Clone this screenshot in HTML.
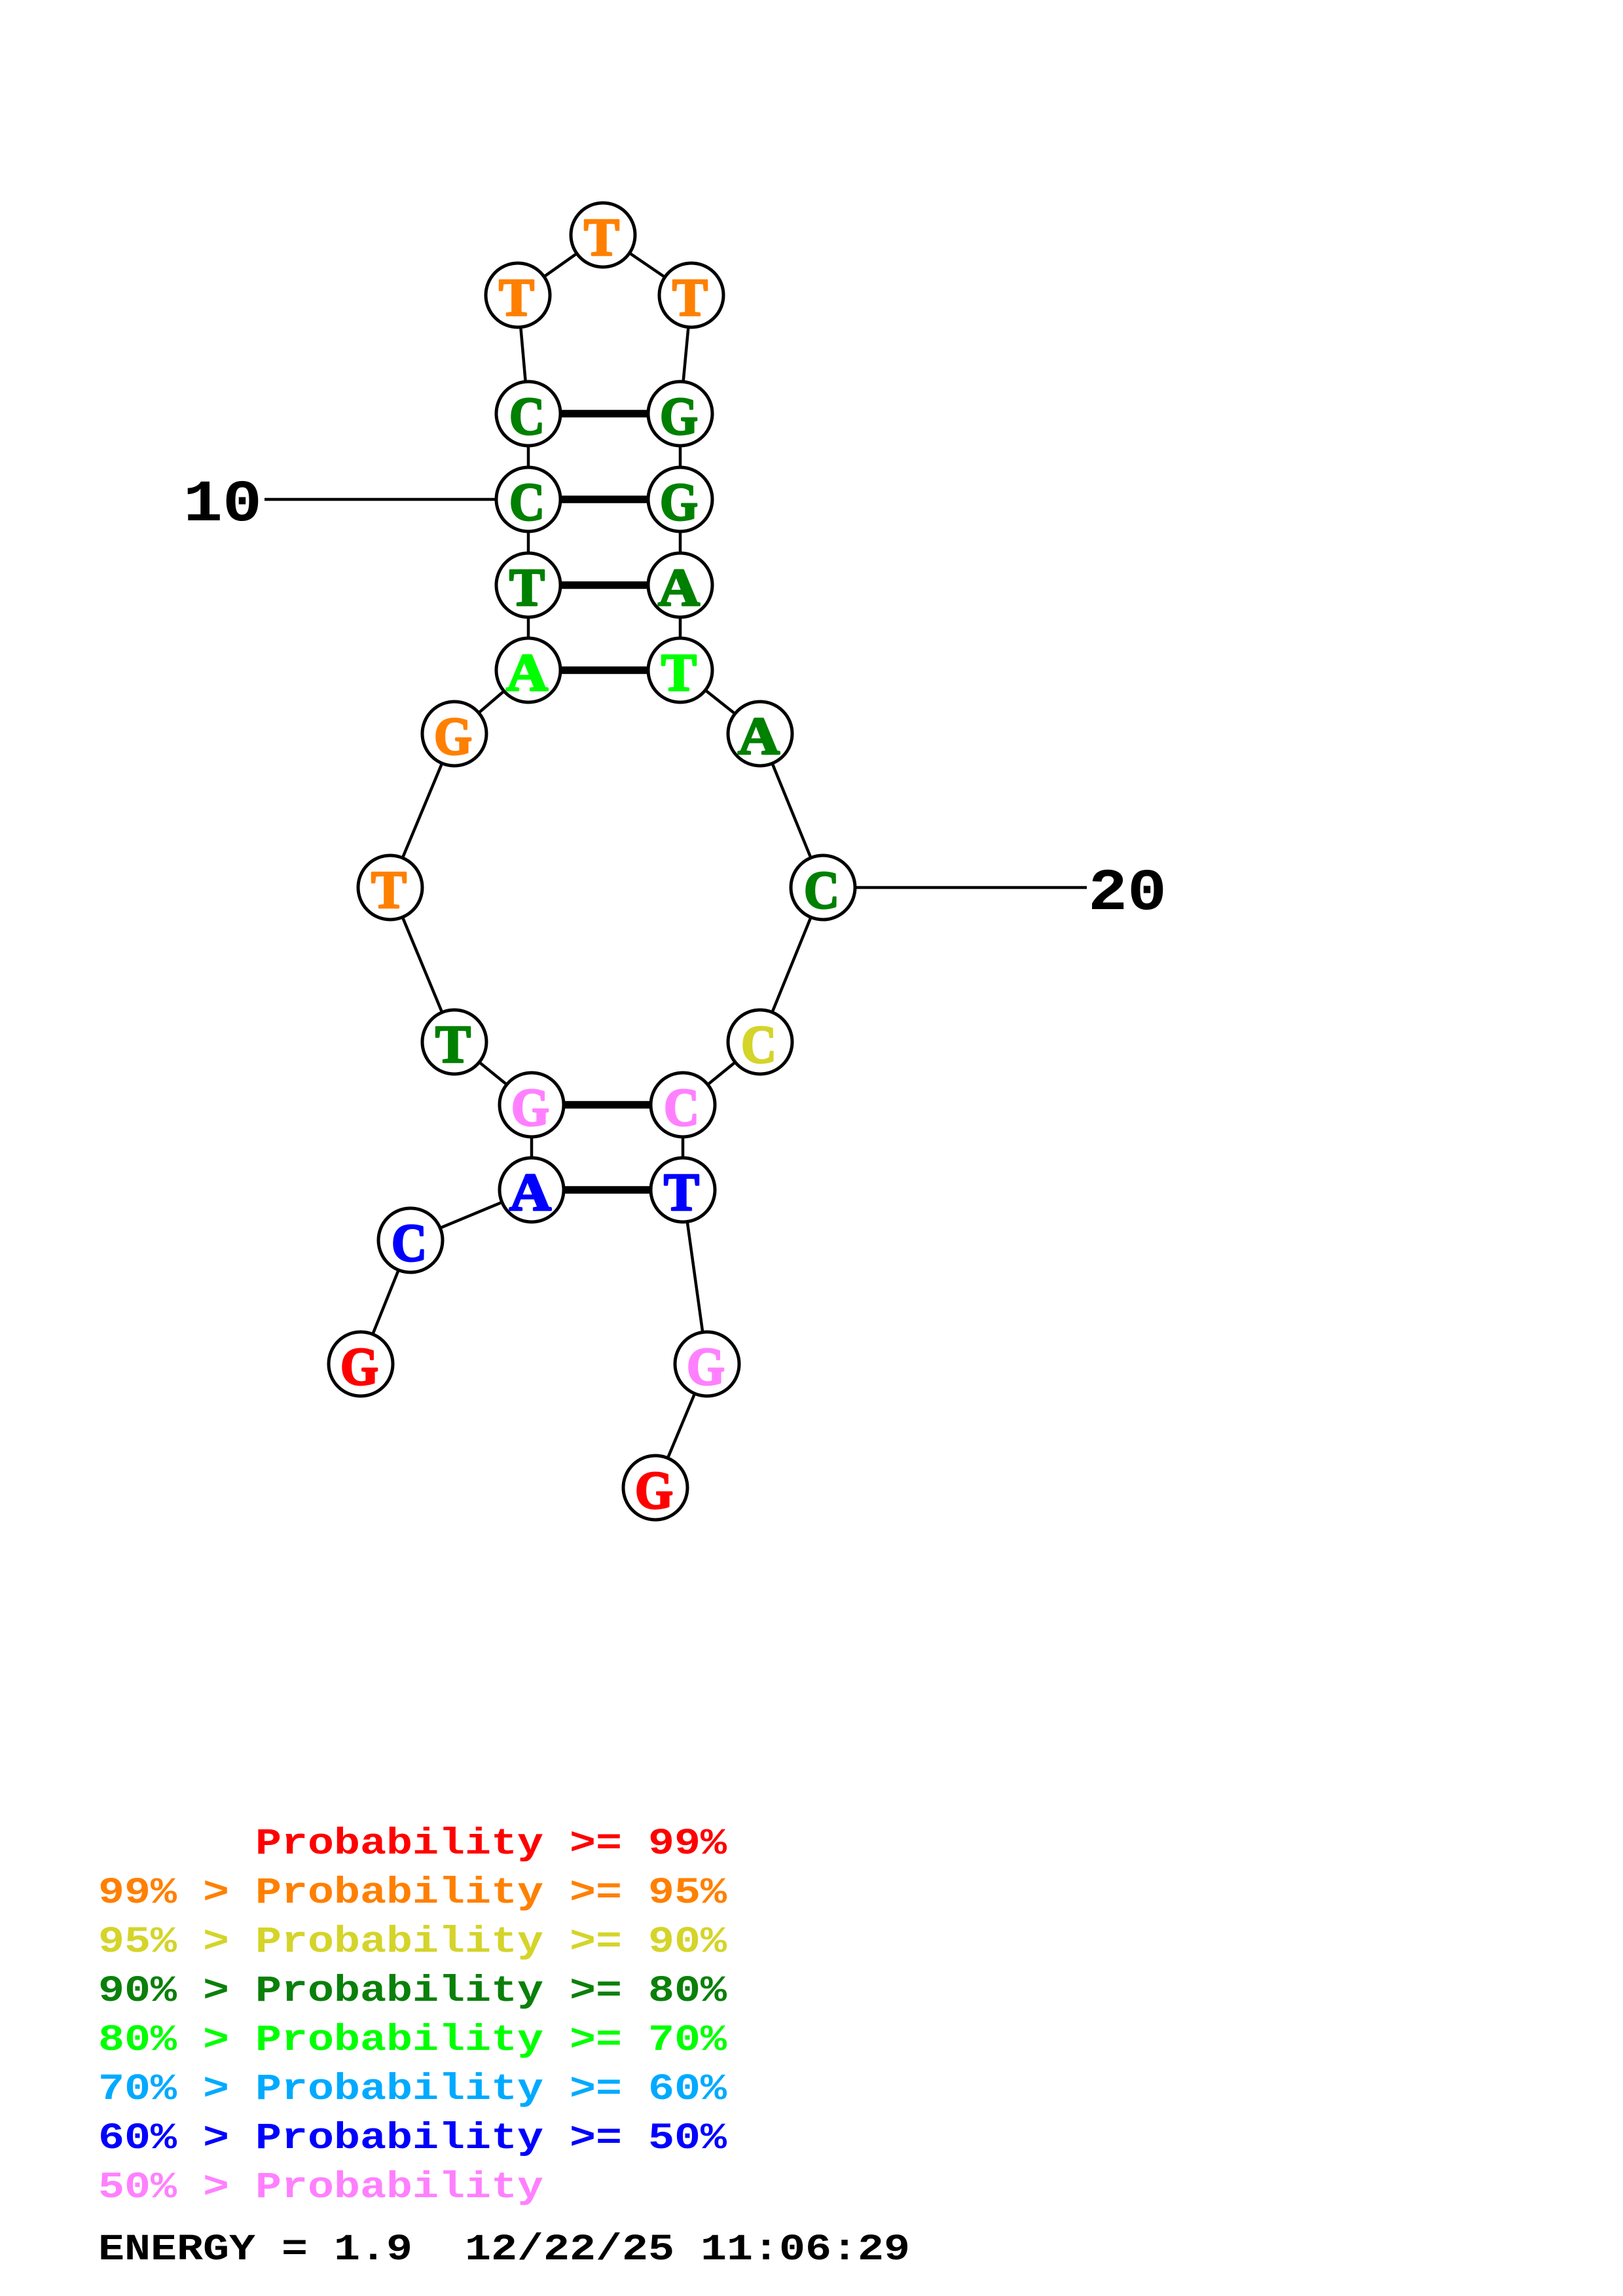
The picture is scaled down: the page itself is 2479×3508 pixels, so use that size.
<!DOCTYPE html>
<html><head><meta charset="utf-8"><style>
html,body{margin:0;padding:0;background:#fff}
svg{display:block}
.n{font-family:"Liberation Serif",serif;font-weight:bold;font-size:82px;text-anchor:middle;stroke-width:3px;stroke-linejoin:round}
.m{font-family:"Liberation Mono",monospace;font-weight:bold;font-size:66.67px;white-space:pre}
.d{font-family:"Liberation Mono",monospace;font-weight:bold;font-size:100px;fill:#000}
circle{fill:#fff;stroke:#000;stroke-width:5}
.o{fill:#ff8000;stroke:#ff8000}.g{fill:#008000;stroke:#008000}.l{fill:#00ff00;stroke:#00ff00}
.y{fill:#d4d42a;stroke:#d4d42a}.p{fill:#ff80ff;stroke:#ff80ff}.b{fill:#0000ff;stroke:#0000ff}.r{fill:#ff0000;stroke:#ff0000}
</style></head><body>
<svg xmlns="http://www.w3.org/2000/svg" width="2479" height="3508" viewBox="0 0 2479 3508">
<rect width="2479" height="3508" fill="#fff"/>
<polyline fill="none" stroke="#000" stroke-width="4.5" points="551,2084 627,1895 812,1818 812,1688 694,1592 596,1356 694,1121 807,1024 807,894 807,763 807,632 791,451 921,359 1056,451 1039,632 1039,763 1039,894 1039,1024 1161,1121 1257,1356 1161,1592 1043,1688 1043,1818 1080,2084 1001,2273"/>
<g stroke="#000" stroke-width="11.5">
<line x1="807" y1="632" x2="1039" y2="632"/>
<line x1="807" y1="763" x2="1039" y2="763"/>
<line x1="807" y1="894" x2="1039" y2="894"/>
<line x1="807" y1="1024" x2="1039" y2="1024"/>
<line x1="812" y1="1688" x2="1043" y2="1688"/>
<line x1="812" y1="1818" x2="1043" y2="1818"/>
</g>
<g stroke="#000" stroke-width="4.5">
<line x1="404" y1="763" x2="807" y2="763"/>
<line x1="1257" y1="1356" x2="1660" y2="1356"/>
</g>
<g>
<circle cx="921" cy="359" r="49"/><circle cx="791" cy="451" r="49"/><circle cx="1056" cy="451" r="49"/>
<circle cx="807" cy="632" r="49"/><circle cx="1039" cy="632" r="49"/>
<circle cx="807" cy="763" r="49"/><circle cx="1039" cy="763" r="49"/>
<circle cx="807" cy="894" r="49"/><circle cx="1039" cy="894" r="49"/>
<circle cx="807" cy="1024" r="49"/><circle cx="1039" cy="1024" r="49"/>
<circle cx="694" cy="1121" r="49"/><circle cx="1161" cy="1121" r="49"/>
<circle cx="596" cy="1356" r="49"/><circle cx="1257" cy="1356" r="49"/>
<circle cx="694" cy="1592" r="49"/><circle cx="1161" cy="1592" r="49"/>
<circle cx="812" cy="1688" r="49"/><circle cx="1043" cy="1688" r="49"/>
<circle cx="812" cy="1818" r="49"/><circle cx="1043" cy="1818" r="49"/>
<circle cx="627" cy="1895" r="49"/>
<circle cx="551" cy="2084" r="49"/><circle cx="1080" cy="2084" r="49"/>
<circle cx="1001" cy="2273" r="49"/>
</g>
<g class="n">
<text x="919" y="390" class="o" textLength="54" lengthAdjust="spacingAndGlyphs">T</text>
<text x="789" y="482" class="o" textLength="54" lengthAdjust="spacingAndGlyphs">T</text>
<text x="1054" y="482" class="o" textLength="54" lengthAdjust="spacingAndGlyphs">T</text>
<text x="805" y="663" class="g" textLength="54" lengthAdjust="spacingAndGlyphs">C</text>
<text x="1037" y="663" class="g" textLength="58" lengthAdjust="spacingAndGlyphs">G</text>
<text x="805" y="794" class="g" textLength="54" lengthAdjust="spacingAndGlyphs">C</text>
<text x="1037" y="794" class="g" textLength="58" lengthAdjust="spacingAndGlyphs">G</text>
<text x="805" y="925" class="g" textLength="54" lengthAdjust="spacingAndGlyphs">T</text>
<text x="1037" y="925" class="g" textLength="64" lengthAdjust="spacingAndGlyphs">A</text>
<text x="805" y="1055" class="l" textLength="64" lengthAdjust="spacingAndGlyphs">A</text>
<text x="1037" y="1055" class="l" textLength="54" lengthAdjust="spacingAndGlyphs">T</text>
<text x="692" y="1152" class="o" textLength="58" lengthAdjust="spacingAndGlyphs">G</text>
<text x="1159" y="1152" class="g" textLength="64" lengthAdjust="spacingAndGlyphs">A</text>
<text x="594" y="1387" class="o" textLength="54" lengthAdjust="spacingAndGlyphs">T</text>
<text x="1255" y="1387" class="g" textLength="54" lengthAdjust="spacingAndGlyphs">C</text>
<text x="692" y="1623" class="g" textLength="54" lengthAdjust="spacingAndGlyphs">T</text>
<text x="1159" y="1623" class="y" textLength="54" lengthAdjust="spacingAndGlyphs">C</text>
<text x="810" y="1719" class="p" textLength="58" lengthAdjust="spacingAndGlyphs">G</text>
<text x="1041" y="1719" class="p" textLength="54" lengthAdjust="spacingAndGlyphs">C</text>
<text x="810" y="1849" class="b" textLength="64" lengthAdjust="spacingAndGlyphs">A</text>
<text x="1041" y="1849" class="b" textLength="54" lengthAdjust="spacingAndGlyphs">T</text>
<text x="625" y="1926" class="b" textLength="54" lengthAdjust="spacingAndGlyphs">C</text>
<text x="549" y="2115" class="r" textLength="58" lengthAdjust="spacingAndGlyphs">G</text>
<text x="1078" y="2115" class="p" textLength="58" lengthAdjust="spacingAndGlyphs">G</text>
<text x="999" y="2304" class="r" textLength="58" lengthAdjust="spacingAndGlyphs">G</text>
</g>
<text class="d" transform="translate(280,795) scale(1,.9)">10</text>
<text class="d" transform="translate(1662,1389) scale(1,.9)">20</text>
<g class="m">
<text transform="translate(150,2832) scale(1,.85)" fill="#ff0000" xml:space="preserve">      Probability &gt;= 99%</text>
<text transform="translate(150,2907) scale(1,.85)" fill="#ff8000" xml:space="preserve">99% &gt; Probability &gt;= 95%</text>
<text transform="translate(150,2982) scale(1,.85)" fill="#d4d42a" xml:space="preserve">95% &gt; Probability &gt;= 90%</text>
<text transform="translate(150,3057) scale(1,.85)" fill="#0a800a" xml:space="preserve">90% &gt; Probability &gt;= 80%</text>
<text transform="translate(150,3132) scale(1,.85)" fill="#00ff00" xml:space="preserve">80% &gt; Probability &gt;= 70%</text>
<text transform="translate(150,3207) scale(1,.85)" fill="#00aaff" xml:space="preserve">70% &gt; Probability &gt;= 60%</text>
<text transform="translate(150,3282) scale(1,.85)" fill="#0000ff" xml:space="preserve">60% &gt; Probability &gt;= 50%</text>
<text transform="translate(150,3357) scale(1,.85)" fill="#ff80ff" xml:space="preserve">50% &gt; Probability</text>
<text transform="translate(150,3452) scale(1,.85)" fill="#000" xml:space="preserve">ENERGY = 1.9  12/22/25 11:06:29</text>
</g>
</svg>
</body></html>
